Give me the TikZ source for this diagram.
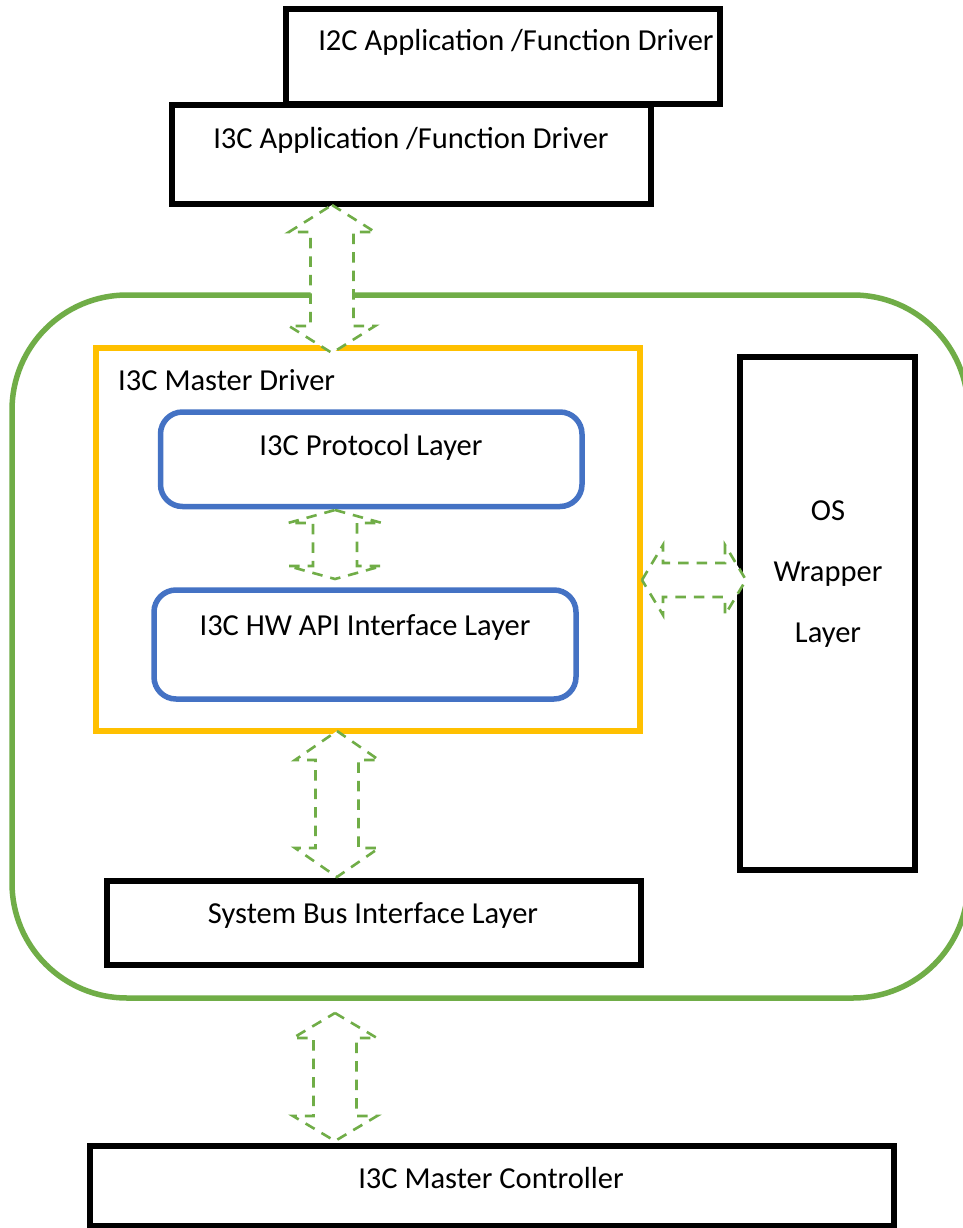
\documentclass[tikz,border=0pt]{standalone}
\usepackage{fontspec}
\setmainfont{Carlito}
\usetikzlibrary{calc}

\definecolor{frameGreen}{HTML}{70AD47}
\definecolor{drvYellow}{HTML}{FFC000}
\definecolor{layerBlue}{HTML}{4472C4}

\tikzset{
  blackbox/.style={draw=black, line width=6pt, fill=white, rectangle, inner sep=0pt},
  bluebox/.style={draw=layerBlue, line width=5.5pt, fill=white, rounded corners=22pt},
  lbl/.style={font=\fontsize{30.5}{36}\selectfont, inner sep=0pt, text=black},
  flowline/.style={draw=frameGreen, line width=2.6pt, dash pattern=on 10.5pt off 8pt, fill=white, line join=miter},
  % vertical double-headed block arrow: head length / head half-width / shaft half-width
  vdouble/.style n args={3}{flowline,
    to path={let \p1=(\tikztostart), \p2=(\tikztotarget) in
      (\x1,\y1) -- (\x1+#2,\y1-#1) -- (\x1+#3,\y1-#1) -- (\x1+#3,\y2+#1)
      -- (\x1+#2,\y2+#1) -- (\x1,\y2) -- (\x1-#2,\y2+#1) -- (\x1-#3,\y2+#1)
      -- (\x1-#3,\y1-#1) -- (\x1-#2,\y1-#1) -- cycle}},
  % horizontal double-headed block arrow
  hdouble/.style n args={3}{flowline,
    to path={let \p1=(\tikztostart), \p2=(\tikztotarget) in
      (\x1,\y1) -- (\x1+#1,\y1+#2) -- (\x1+#1,\y1+#3) -- (\x2-#1,\y1+#3)
      -- (\x2-#1,\y1+#2) -- (\x2,\y1) -- (\x2-#1,\y1-#2) -- (\x2-#1,\y1-#3)
      -- (\x1+#1,\y1-#3) -- (\x1+#1,\y1-#2) -- cycle}},
}

\begin{document}
\begin{tikzpicture}[x=1pt, y=-1pt]
\useasboundingbox (0,0) rectangle (963,1228);
\clip (0,0) rectangle (963,1228);
\fill[white] (0,0) rectangle (963,1228);

% application drivers on top
\draw[blackbox] (286,9) rectangle (720,104);
\coordinate (i2capp) at (503,56.5);
\node[lbl] (i2ctext) at (516,42) {I2C Application /Function Driver};
\draw[blackbox] (171.5,105.5) rectangle (651,203.5);
\coordinate (i3capp) at (411,154.5);
\node[lbl] (i3capptext) at (411,140) {I3C Application /Function Driver};

% outer software stack frame
\draw[frameGreen, line width=5.5pt, rounded corners=115pt] (12,295) rectangle (968,998);

% master driver block
\draw[drvYellow, line width=6pt] (96,348) rectangle (640,731);
\node[lbl, anchor=west] (drvtext) at (118,380) {I3C Master Driver};

\draw[bluebox] (160.5,412) rectangle (582,506.5);
\node[lbl] (prototext) at (371,447.5) {I3C Protocol Layer};
\draw[bluebox] (154,590) rectangle (576,699);
\node[lbl] (hwtext) at (365,627) {I3C HW API Interface Layer};

% OS wrapper column
\draw[blackbox] (740,357) rectangle (915,870);
\node[lbl, align=center, font=\fontsize{30.5}{61}\selectfont] (ostext) at (828,574) {OS\\Wrapper\\Layer};

% system bus and controller
\draw[blackbox] (107,881) rectangle (641,965);
\node[lbl] (bustext) at (373,915) {System Bus Interface Layer};
\draw[blackbox] (90,1146) rectangle (894,1226);
\node[lbl] (ctrltext) at (491,1178) {I3C Master Controller};

% tips of the block arrows
\coordinate (a1top) at (332,205);  \coordinate (a1bot) at (332,353);
\coordinate (a2top) at (335,510);  \coordinate (a2bot) at (335,579);
\coordinate (a3top) at (337,731);  \coordinate (a3bot) at (337,877);
\coordinate (a4top) at (335,1013); \coordinate (a4bot) at (335,1141);
\coordinate (a5left) at (642,580); \coordinate (a5right) at (746,580);

\draw[vdouble={27pt}{43pt}{21.5pt}] (a1top) to (a1bot);
\draw[vdouble={13pt}{47pt}{22pt}] (a2top) to (a2bot);
\draw[vdouble={29pt}{42pt}{21.5pt}] (a3top) to (a3bot);
\draw[vdouble={25pt}{42pt}{21.5pt}] (a4top) to (a4bot);
\draw[hdouble={21pt}{35pt}{17pt}] (a5left) to (a5right);
\end{tikzpicture}
\end{document}
